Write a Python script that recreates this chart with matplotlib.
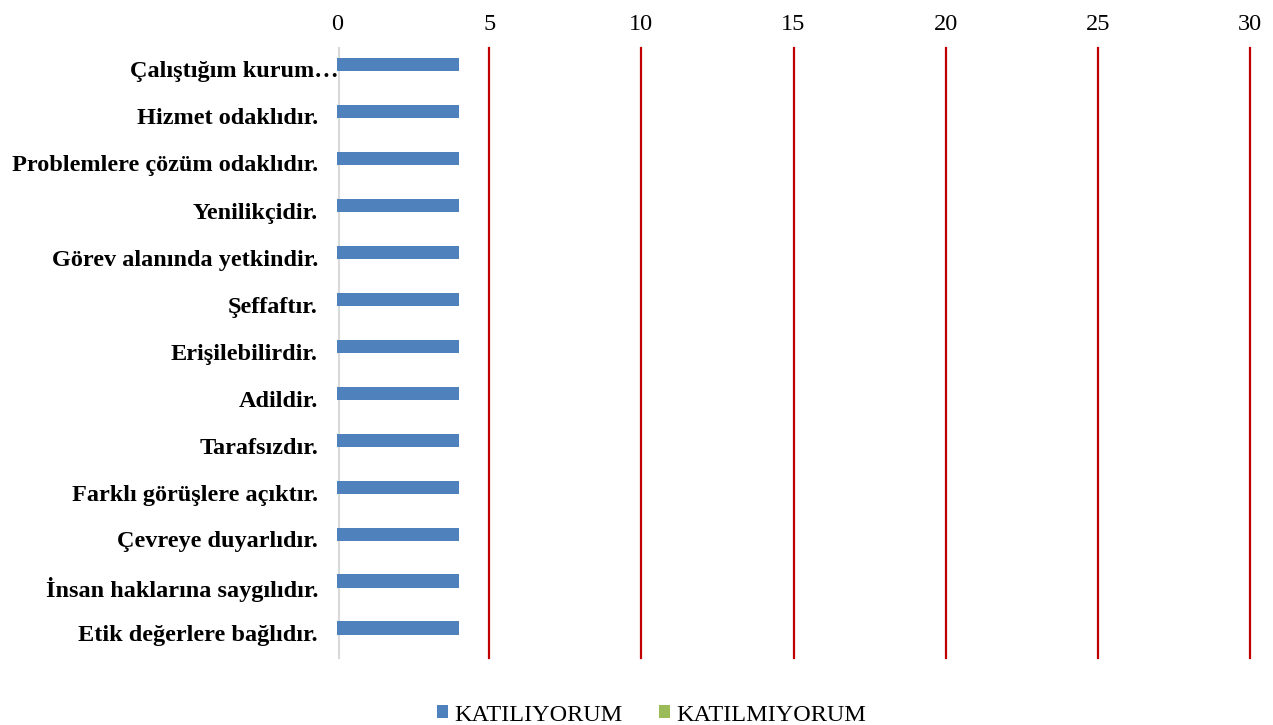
import matplotlib as mpl
mpl.use('Agg')
import matplotlib.pyplot as plt
import numpy as np

plt.rcParams['font.family'] = ['Liberation Serif', 'DejaVu Serif']

categories = [
    'Çalıştığım kurum…',
    'Hizmet odaklıdır.',
    'Problemlere çözüm odaklıdır.',
    'Yenilikçidir.',
    'Görev alanında yetkindir.',
    'Şeffaftır.',
    'Erişilebilirdir.',
    'Adildir.',
    'Tarafsızdır.',
    'Farklı görüşlere açıktır.',
    'Çevreye duyarlıdır.',
    'İnsan haklarına saygılıdır.',
    'Etik değerlere bağlıdır.',
]
katiliyorum = [4, 4, 4, 4, 4, 4, 4, 4, 4, 4, 4, 4, 4]
katilmiyorum = [0, 0, 0, 0, 0, 0, 0, 0, 0, 0, 0, 0, 0]
xticks = [0, 5, 10, 15, 20, 25, 30]

fig = plt.figure(figsize=(12.73, 7.25), dpi=100)
ax = fig.add_axes([337 / 1273, 0.0924, (1250 - 337) / 1273, 0.9338 - 0.0924])

y = np.arange(len(categories))
h = 0.28
ax.barh(y - h / 2, katiliyorum, height=h, color='#4F81BD', label='KATILIYORUM', zorder=3)
ax.barh(y + h / 2, katilmiyorum, height=h, color='#9BBB59', label='KATILMIYORUM', zorder=3)

ax.set_ylim(len(categories) - 0.5, -0.5)
ax.set_xlim(0, 30)
ax.xaxis.tick_top()
ax.set_xticks(xticks)
ax.set_xticklabels([str(t) for t in xticks], fontsize=17.5)
ax.tick_params(axis='x', length=0, pad=9)
ax.set_yticks(y)
ax.set_yticklabels([])
ax.tick_params(axis='y', length=0)

for t in xticks[1:]:
    ax.axvline(t, color='#C00000', lw=1.6, zorder=1, clip_on=False)
for s in ['top', 'right', 'bottom']:
    ax.spines[s].set_visible(False)
ax.spines['left'].set_color('#D9D9D9')
ax.spines['left'].set_linewidth(1.5)
ax.spines['left'].set_position(('data', 0.05))

for i, lab in enumerate(categories):
    xr = 339 if i == 0 else 318
    fig.text(xr / 1273, 1 - (72 + 47 * i) / 725, lab, ha='right', va='center',
             fontsize=17.5, fontweight='bold')

fig.legend(loc='lower center', bbox_to_anchor=(0.512, -0.031), ncol=2, frameon=False,
           fontsize=17.5, handlelength=0.45, handleheight=0.45, handletextpad=0.25,
           columnspacing=1.5)

plt.savefig('out.png', dpi=100)
